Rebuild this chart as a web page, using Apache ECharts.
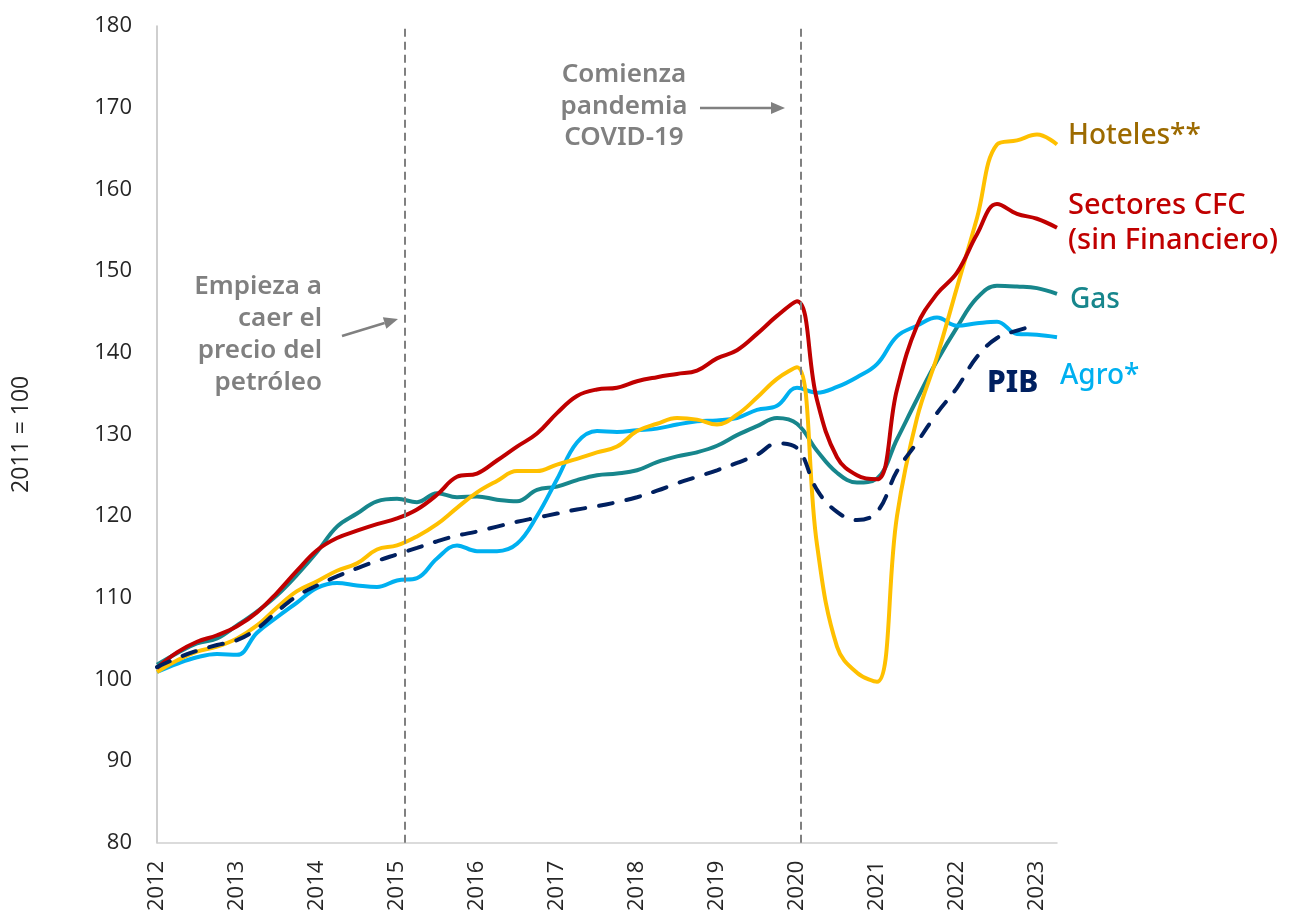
<!DOCTYPE html>
<html>
<head>
<meta charset="utf-8">
<title>Índices sectoriales 2011 = 100</title>
<script src="https://cdn.jsdelivr.net/npm/echarts@6/dist/echarts.min.js"></script>
<style>
    html, body { margin: 0; padding: 0; background: #ffffff; }
    #lineChart { width: 1296px; height: 914px; }
</style>
</head>
<body>
<div id="lineChart"></div>
<script>
// datos trimestrales, 2012T1 - 2023T2 (índice 2011 = 100)
const firstYear = 2012;
const yearTicks = [2012, 2013, 2014, 2015, 2016, 2017, 2018, 2019, 2020, 2021, 2022, 2023];

const hoteles = [100.9, 102.3, 103.4, 104.0, 105.0, 106.6, 108.8, 110.8, 112.0, 113.3,
    114.2, 115.9, 116.4, 117.5, 119.0, 121.0, 122.9, 124.3, 125.5, 125.5,
    126.3, 127.0, 127.8, 128.5, 130.4, 131.3, 132.0, 131.8, 131.2, 132.4,
    134.5, 136.8, 138.2, 116.5, 104.0, 100.8, 99.7, 120.0, 132.0, 139.5,
    148.0, 156.5, 165.5, 166.0, 166.7, 165.5];

const sectoresCFC = [101.4, 103.3, 104.6, 105.4, 106.5, 108.2, 110.6, 113.3, 115.8, 117.3,
    118.2, 119.0, 119.7, 120.8, 122.6, 124.8, 125.2, 126.8, 128.5, 130.1,
    132.6, 134.7, 135.5, 135.7, 136.5, 137.0, 137.4, 137.8, 139.3, 140.3,
    142.3, 144.5, 146.3, 134.2, 127.2, 125.0, 124.5, 135.5, 143.3, 147.2,
    149.8, 154.5, 158.2, 157.0, 156.4, 155.3];

const gas = [101.8, 103.2, 104.4, 105.0, 106.6, 108.3, 110.3, 112.8, 115.6, 118.7,
    120.3, 121.8, 122.1, 121.7, 122.8, 122.3, 122.4, 122.0, 121.8, 123.2,
    123.6, 124.4, 125.0, 125.2, 125.6, 126.6, 127.3, 127.8, 128.6, 129.9,
    131.0, 132.0, 131.3, 128.0, 125.3, 124.1, 124.6, 129.4, 134.3, 139.0,
    143.1, 146.7, 148.2, 148.1, 147.9, 147.2];

const agro = [100.9, 101.9, 102.7, 103.1, 103.0, 105.7, 107.6, 109.4, 111.2, 111.8,
    111.5, 111.3, 112.1, 112.4, 114.8, 116.4, 115.7, 115.7, 116.6, 120.0,
    124.5, 129.0, 130.4, 130.3, 130.5, 130.7, 131.2, 131.6, 131.7, 132.0,
    133.0, 133.5, 135.7, 135.1, 135.8, 137.0, 138.6, 142.0, 143.3, 144.3,
    143.3, 143.6, 143.8, 142.3, 142.2, 141.9];

// el PIB llega hasta 2023T1
const pib = [101.5, 102.6, 103.5, 104.2, 104.8, 106.2, 108.3, 110.2, 111.5, 112.6,
    113.6, 114.5, 115.3, 116.1, 116.9, 117.6, 118.1, 118.7, 119.3, 119.8,
    120.3, 120.8, 121.2, 121.7, 122.3, 123.1, 124.0, 124.8, 125.6, 126.5,
    127.5, 128.9, 128.3, 123.2, 120.5, 119.5, 120.5, 125.5, 129.0, 132.6,
    135.7, 139.5, 141.8, 142.7, 143.4];

// caída del petróleo y comienzo de la pandemia
const eventLines = [2015.1, 2020.05];

const grey = '#808080';
const textDark = '#262626';
const labelFont = '"Noto Sans", sans-serif';

function toPoints(values) {
    return values.map((v, i) => [firstYear + i / 4, v]);
}

function arrow(x1, y1, x2, y2) {
    const ang = Math.atan2(y2 - y1, x2 - x1);
    const len = 14, half = 6;
    const bx = x2 - len * Math.cos(ang);
    const by = y2 - len * Math.sin(ang);
    const nx = -Math.sin(ang) * half;
    const ny = Math.cos(ang) * half;
    return [
        { type: 'line', shape: { x1: x1, y1: y1, x2: bx, y2: by }, style: { stroke: grey, lineWidth: 2.5 } },
        { type: 'polygon', shape: { points: [[x2, y2], [bx + nx, by + ny], [bx - nx, by - ny]] }, style: { fill: grey } }
    ];
}

function lineSeries(name, values, color, extra) {
    return Object.assign({
        name: name,
        type: 'line',
        data: toPoints(values),
        smooth: 0.4,
        showSymbol: false,
        silent: true,
        lineStyle: { color: color, width: 4 },
        itemStyle: { color: color }
    }, extra || {});
}

function seriesLabel(text, x, y, color, size, weight, extra) {
    return {
        type: 'text', x: x, y: y,
        style: Object.assign({
            text: text, verticalAlign: 'middle', fill: color,
            fontSize: size, fontWeight: weight, fontFamily: labelFont
        }, extra || {})
    };
}

let lineChartDom = document.getElementById('lineChart');
let lineChart = echarts.init(lineChartDom);

let lineChartOption = {
    backgroundColor: '#ffffff',
    animation: false,
    textStyle: { fontFamily: '"Open Sans", sans-serif' },
    grid: { left: 157, right: 239, top: 26, bottom: 71, containLabel: false },
    xAxis: {
        type: 'value',
        min: firstYear,
        max: firstYear + (hoteles.length - 1) / 4,
        interval: 1,
        axisLine: { show: true, lineStyle: { color: '#d0d0d0', width: 1.5 } },
        axisTick: { show: false },
        splitLine: { show: false },
        axisLabel: {
            rotate: 90,
            margin: 18,
            fontSize: 22,
            color: textDark,
            showMaxLabel: false,
            formatter: v => yearTicks.includes(v) ? String(v) : ''
        }
    },
    yAxis: {
        type: 'value',
        min: 80,
        max: 180,
        interval: 10,
        name: '2011 = 100',
        nameLocation: 'middle',
        nameGap: 124,
        nameTextStyle: { fontSize: 23, color: textDark },
        axisLine: { show: true, lineStyle: { color: '#bfbfbf', width: 1.5 } },
        axisTick: { show: false },
        splitLine: { show: false },
        axisLabel: { fontSize: 22, color: textDark, margin: 25 }
    },
    series: [
        lineSeries('Gas', gas, '#17868c'),
        lineSeries('Agro*', agro, '#00b0f0'),
        lineSeries('Hoteles**', hoteles, '#ffc000'),
        lineSeries('Sectores CFC (sin Financiero)', sectoresCFC, '#c00000'),
        lineSeries('PIB', pib, '#002060', {
            lineStyle: { color: '#002060', width: 4, type: [14, 14], cap: 'round' },
            markLine: {
                silent: true,
                symbol: 'none',
                label: { show: false },
                lineStyle: { color: grey, width: 2, type: [8, 5] },
                data: eventLines.map(x => ({ xAxis: x }))
            }
        })
    ],
    graphic: [
        {
            type: 'text', x: 322, y: 271,
            style: {
                text: 'Empieza a\ncaer el\nprecio del\npetróleo',
                align: 'right', verticalAlign: 'top', lineHeight: 32,
                fill: grey, fontSize: 26, fontWeight: 600, fontFamily: labelFont
            }
        },
        {
            type: 'text', x: 624, y: 59,
            style: {
                text: 'Comienza\npandemia\nCOVID-19',
                align: 'center', verticalAlign: 'top', lineHeight: 31.5,
                fill: grey, fontSize: 26, fontWeight: 600, fontFamily: labelFont
            }
        },
        ...arrow(342, 336, 398, 319),
        ...arrow(700, 108, 785, 108),
        seriesLabel('Hoteles**', 1068, 136, '#9c6a00', 28, 500),
        seriesLabel('Sectores CFC\n(sin Financiero)', 1068, 223, '#c00000', 29, 500, { lineHeight: 35 }),
        seriesLabel('Gas', 1070, 300, '#17868c', 28, 500),
        seriesLabel('Agro*', 1060, 376, '#00b0f0', 28, 500),
        seriesLabel('PIB', 987, 383, '#002060', 30, 800)
    ]
};

lineChart.setOption(lineChartOption);

window.addEventListener('resize', () => {
    lineChart.resize();
});
</script>
</body>
</html>
